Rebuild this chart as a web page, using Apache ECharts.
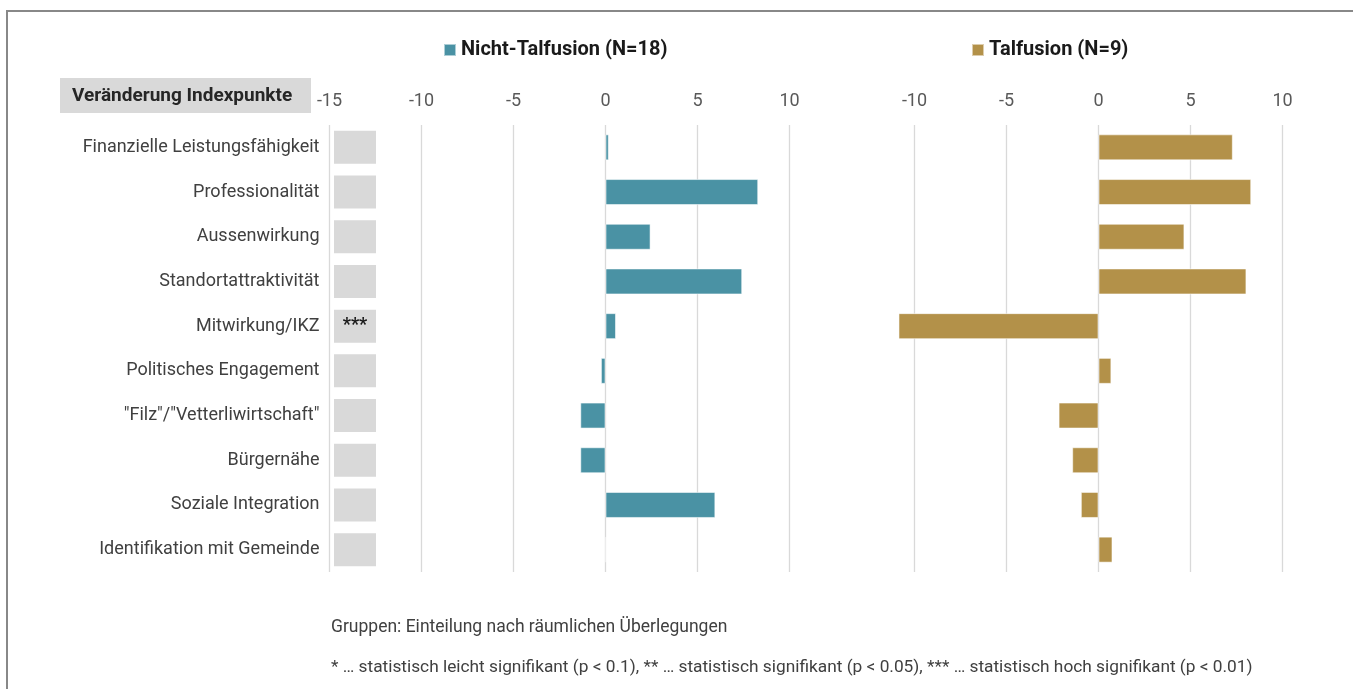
<!DOCTYPE html>
<html>
<head>
<meta charset="utf-8">
<script src="https://cdn.jsdelivr.net/npm/echarts@6/dist/echarts.min.js"></script>
<style>
  html, body { margin: 0; padding: 0; background: #fff; }
  #chart { width: 1353px; height: 689px; }
</style>
</head>
<body>
<div id="chart"></div>
<script>
// Kategorien (von oben nach unten)
var categories = [
  "Finanzielle Leistungsfähigkeit",
  "Professionalität",
  "Aussenwirkung",
  "Standortattraktivität",
  "Mitwirkung/IKZ",
  "Politisches Engagement",
  "\"Filz\"/\"Vetterliwirtschaft\"",
  "Bürgernähe",
  "Soziale Integration",
  "Identifikation mit Gemeinde"
];
// Veränderung Indexpunkte
var nichtTalfusion = [0.18, 8.3, 2.45, 7.43, 0.57, -0.25, -1.37, -1.37, 5.97, 0.05];
var talfusion = [7.3, 8.3, 4.67, 8.04, -10.87, 0.7, -2.17, -1.43, -0.96, 0.76];
// Signifikanz
var significance = ["", "", "", "", "***", "", "", "", "", ""];
var boxValues = [1, 1, 1, 1, 1, 1, 1, 1, 1, 1];

var seriesNames = ["Nicht-Talfusion (N=18)", "Talfusion (N=9)"];
var colors = ["#4A92A4", "#B39149"];

var chart = echarts.init(document.getElementById("chart"));

var gridTop = 125;
var gridHeight = 447;
var axisLabelStyle = {
  fontFamily: "Roboto",
  fontSize: 18,
  color: "#595959",
  margin: 15,
  showMinLabel: true
};
var splitLine = {
  show: true,
  lineStyle: { color: "#d9d9d9", width: 1.3 }
};

var option = {
  animation: false,
  textStyle: { fontFamily: "Roboto" },
  legend: [
    {
      data: [seriesNames[0]],
      left: 443,
      top: 40,
      padding: 0,
      icon: "rect",
      itemWidth: 12,
      itemHeight: 12,
      textStyle: { fontSize: 20, fontWeight: "bold", color: "#1a1a1a" }
    },
    {
      data: [seriesNames[1]],
      left: 971,
      top: 40,
      padding: 0,
      icon: "rect",
      itemWidth: 12,
      itemHeight: 12,
      textStyle: { fontSize: 20, fontWeight: "bold", color: "#1a1a1a" }
    }
  ],
  grid: [
    { left: 329.5, width: 460, top: gridTop, height: gridHeight },
    { left: 822.5, width: 460, top: gridTop, height: gridHeight },
    { left: 334, width: 42, top: gridTop, height: gridHeight }
  ],
  xAxis: [
    {
      gridIndex: 0,
      type: "value",
      position: "top",
      min: -15,
      max: 10,
      interval: 5,
      axisLine: { show: false },
      axisTick: { show: false },
      axisLabel: axisLabelStyle,
      splitLine: splitLine
    },
    {
      gridIndex: 1,
      type: "value",
      position: "top",
      min: -15,
      max: 10,
      interval: 5,
      axisLine: { show: false },
      axisTick: { show: false },
      axisLabel: Object.assign({}, axisLabelStyle, { showMinLabel: false }),
      splitLine: Object.assign({}, splitLine, { showMinLine: false })
    },
    {
      gridIndex: 2,
      type: "value",
      min: 0,
      max: 1,
      show: false
    }
  ],
  yAxis: [
    {
      gridIndex: 0,
      type: "category",
      inverse: true,
      data: categories,
      axisLine: { show: false },
      axisTick: { show: false },
      axisLabel: {
        fontFamily: "Roboto",
        fontSize: 18,
        color: "#404040",
        margin: 10
      }
    },
    {
      gridIndex: 1,
      type: "category",
      inverse: true,
      data: categories,
      show: false
    },
    {
      gridIndex: 2,
      type: "category",
      inverse: true,
      data: categories,
      show: false
    }
  ],
  series: [
    {
      name: "Signifikanz",
      type: "bar",
      xAxisIndex: 2,
      yAxisIndex: 2,
      data: boxValues,
      barWidth: 33,
      silent: true,
      itemStyle: { color: "#d9d9d9" },
      label: {
        show: true,
        position: "inside",
        fontFamily: "Roboto",
        fontSize: 18,
        fontWeight: "bold",
        color: "#1a1a1a",
        offset: [0, -1],
        formatter: function (p) { return significance[p.dataIndex]; }
      }
    },
    {
      name: seriesNames[0],
      type: "bar",
      xAxisIndex: 0,
      yAxisIndex: 0,
      data: nichtTalfusion,
      barWidth: 26,
      itemStyle: { color: colors[0], borderColor: "rgba(255,255,255,0.55)", borderWidth: 1 }
    },
    {
      name: seriesNames[1],
      type: "bar",
      xAxisIndex: 1,
      yAxisIndex: 1,
      data: talfusion,
      barWidth: 26,
      itemStyle: { color: colors[1], borderColor: "rgba(255,255,255,0.55)", borderWidth: 1 }
    }
  ],
  graphic: [
    {
      type: "rect",
      shape: { x: 7, y: 11, width: 1400, height: 720 },
      style: { fill: null, stroke: "#888888", lineWidth: 2 },
      silent: true
    },
    {
      type: "rect",
      shape: { x: 60, y: 78, width: 251, height: 35 },
      style: { fill: "#d9d9d9" },
      silent: true
    },
    {
      type: "text",
      x: 72,
      y: 96,
      style: {
        text: "Veränderung Indexpunkte",
        font: "bold 19px Roboto",
        fill: "#262626",
        textVerticalAlign: "middle"
      }
    },
    {
      type: "text",
      x: 331,
      y: 628,
      style: {
        text: "Gruppen: Einteilung nach räumlichen Überlegungen",
        font: "17.5px Roboto",
        fill: "#404040",
        textVerticalAlign: "middle"
      }
    },
    {
      type: "text",
      x: 331,
      y: 668,
      style: {
        text: "* … statistisch leicht signifikant (p < 0.1), ** … statistisch signifikant (p < 0.05), *** … statistisch hoch signifikant (p < 0.01)",
        font: "17.3px Roboto",
        fill: "#404040",
        textVerticalAlign: "middle"
      }
    }
  ]
};

chart.setOption(option);
</script>
</body>
</html>
